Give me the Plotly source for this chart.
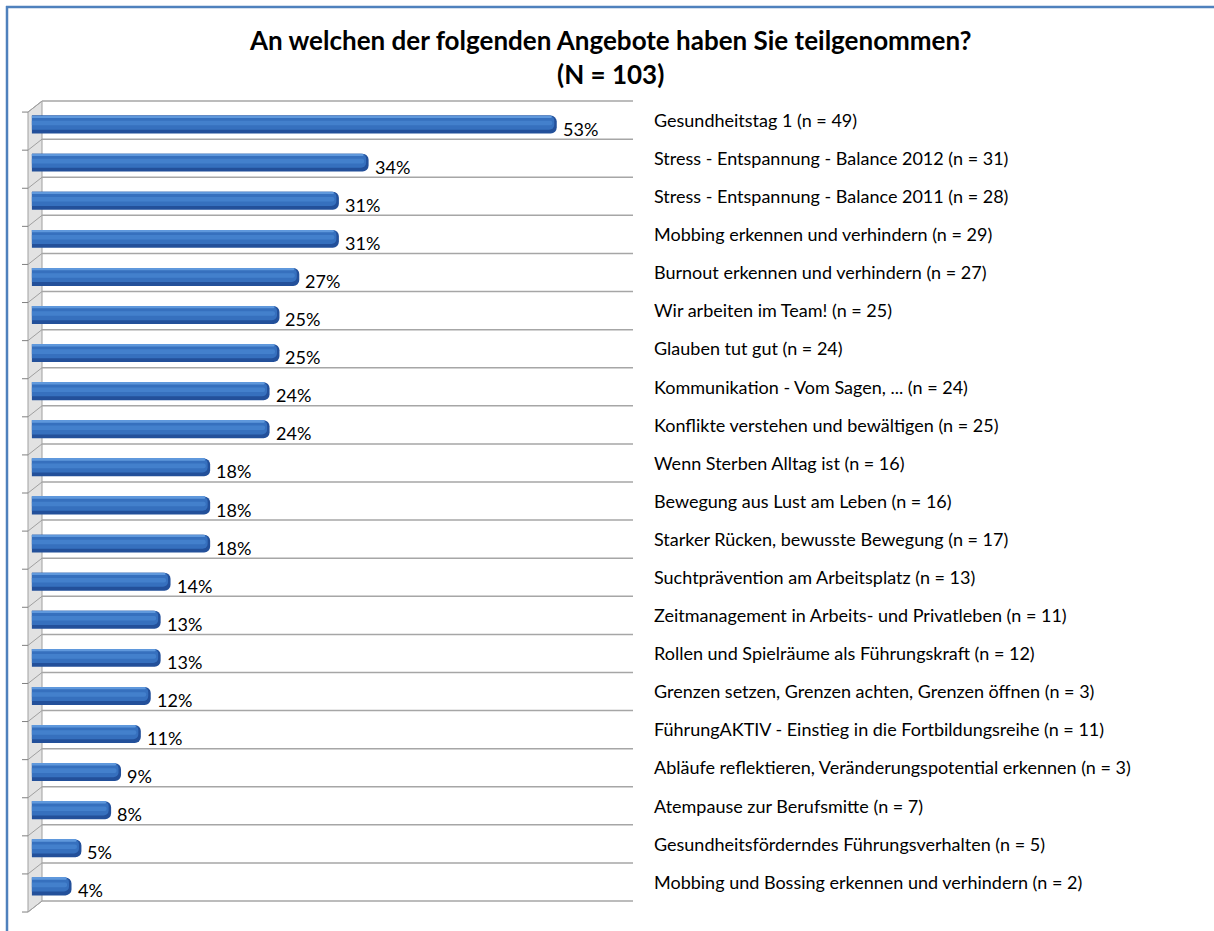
import plotly.graph_objects as go

categories = [
    "Gesundheitstag 1 (n = 49)",
    "Stress - Entspannung - Balance 2012 (n = 31)",
    "Stress - Entspannung - Balance 2011 (n = 28)",
    "Mobbing erkennen und verhindern (n = 29)",
    "Burnout erkennen und verhindern (n = 27)",
    "Wir arbeiten im Team! (n = 25)",
    "Glauben tut gut (n = 24)",
    "Kommunikation - Vom Sagen, ... (n = 24)",
    "Konflikte verstehen und bewältigen (n = 25)",
    "Wenn Sterben Alltag ist (n = 16)",
    "Bewegung aus Lust am Leben (n = 16)",
    "Starker Rücken, bewusste Bewegung (n = 17)",
    "Suchtprävention am Arbeitsplatz (n = 13)",
    "Zeitmanagement in Arbeits- und Privatleben (n = 11)",
    "Rollen und Spielräume als Führungskraft (n = 12)",
    "Grenzen setzen, Grenzen achten, Grenzen öffnen (n = 3)",
    "FührungAKTIV - Einstieg in die Fortbildungsreihe (n = 11)",
    "Abläufe reflektieren, Veränderungspotential erkennen (n = 3)",
    "Atempause zur Berufsmitte (n = 7)",
    "Gesundheitsförderndes Führungsverhalten (n = 5)",
    "Mobbing und Bossing erkennen und verhindern (n = 2)",
]
values = [53, 34, 31, 31, 27, 25, 25, 24, 24, 18, 18, 18, 14, 13, 13, 12, 11, 9, 8, 5, 4]
value_labels = [f"{v}%" for v in values]

title_line1 = "An welchen der folgenden Angebote haben Sie teilgenommen?"
title_line2 = "(N = 103)"

FONT = "Lato, 'Open Sans', sans-serif"

# layout geometry (pixels)
W, H = 1214, 931
ML, MR, MT, MB = 22, 581, 96, 16
PW = W - ML - MR
PH = H - MT - MB
X_RANGE = [-1, 60.7]
ROW_PX = 38.1
ROW0_PX = 124.5
Y_RANGE = [20.75, -0.75]

def xd(px):
    return X_RANGE[0] + (px - ML) / PW * (X_RANGE[1] - X_RANGE[0])

def yd(py):
    return (py - ROW0_PX) / ROW_PX

def xp(px):
    return (px - ML) / PW

def yp(py):
    return 1 - (py - MT) / PH

idx = list(range(len(categories)))
n = len(categories)

fig = go.Figure()

# cylinder-like bars (layered bands to imitate the 3D shading)
bands = [
    # (width, offset, colour, trim, cornerradius)
    (0.47, None, "#23509A", 0.0, 6),
    (0.37, -0.235, "#3670BE", 0.25, 5),
    (0.12, -0.10, "#4380CC", 0.45, 3),
    (0.05, -0.225, "#5F98DC", 0.5, 2),
]
for w, off, col, trim, cr in bands:
    kw = dict(offset=off) if off is not None else {}
    fig.add_trace(go.Bar(y=idx, x=[v - trim for v in values], orientation="h", width=w,
                         marker=dict(color=col, line=dict(width=0), cornerradius=cr),
                         hoverinfo="skip", showlegend=False, **kw))

annotations = []
# value labels
for i, (v, t) in enumerate(zip(values, value_labels)):
    annotations.append(dict(text=t, x=v, y=i, xref="x", yref="y", xanchor="left",
                            yanchor="middle", xshift=4, yshift=-4, showarrow=False,
                            font=dict(family=FONT, size=18, color="#000")))

# title
annotations.append(dict(text=f"<b>{title_line1}</b>", xref="paper", yref="paper",
                        x=xp(610), y=yp(40), xanchor="center", yanchor="middle", showarrow=False,
                        font=dict(family=FONT, size=26, color="#000")))
annotations.append(dict(text=f"<b>{title_line2}</b>", xref="paper", yref="paper",
                        x=xp(610), y=yp(74), xanchor="center", yanchor="middle", showarrow=False,
                        font=dict(family=FONT, size=26, color="#000")))

shapes = []
# 3D side wall
wall_path = (f"M {xd(42)},{yd(101)} L {xd(42)},{yd(101 + n*ROW_PX)} "
             f"L {xd(28)},{yd(112 + n*ROW_PX)} L {xd(28)},{yd(112)} Z")
shapes.append(dict(type="path", xref="x", yref="y", path=wall_path,
                   fillcolor="#E2E2E2", line=dict(color="#A0A0A0", width=1), layer="below"))
for k in range(n + 1):
    yb = 101 + k * ROW_PX
    yf = 112 + k * ROW_PX
    shapes.append(dict(type="line", xref="x", yref="y", x0=xd(42), x1=xd(633),
                       y0=yd(yb), y1=yd(yb), line=dict(color="#A6A6A6", width=1.5), layer="below"))
    shapes.append(dict(type="line", xref="x", yref="y", x0=xd(42), x1=xd(28),
                       y0=yd(yb), y1=yd(yf), line=dict(color="#A0A0A0", width=1), layer="below"))
    shapes.append(dict(type="line", xref="x", yref="y", x0=xd(21), x1=xd(28),
                       y0=yd(yf), y1=yd(yf), line=dict(color="#808080", width=1), layer="below"))

# blue frame (top and left)
shapes.append(dict(type="line", xref="paper", yref="paper", x0=xp(6), x1=xp(W),
                   y0=yp(7), y1=yp(7), line=dict(color="#4F81BD", width=2.5)))
shapes.append(dict(type="line", xref="paper", yref="paper", x0=xp(7), x1=xp(7),
                   y0=yp(6), y1=yp(H), line=dict(color="#4F81BD", width=2.5)))

fig.update_layout(
    width=W, height=H,
    margin=dict(l=ML, r=MR, t=MT, b=MB),
    paper_bgcolor="white", plot_bgcolor="rgba(0,0,0,0)",
    barmode="overlay",
    shapes=shapes,
    annotations=annotations,
    font=dict(family=FONT, size=18, color="#000"),
    xaxis=dict(range=X_RANGE, visible=False, fixedrange=True),
    yaxis=dict(range=Y_RANGE, side="right", tickmode="array", tickvals=idx,
               ticktext=categories, showgrid=False, zeroline=False, showline=False,
               ticks="", ticklabelstandoff=20, ticklabelshift=4, fixedrange=True,
               tickfont=dict(family=FONT, size=18, color="#000")),
)

fig.write_html("out.html", config={"displayModeBar": False},
               post_script="document.body.style.margin='0';")
